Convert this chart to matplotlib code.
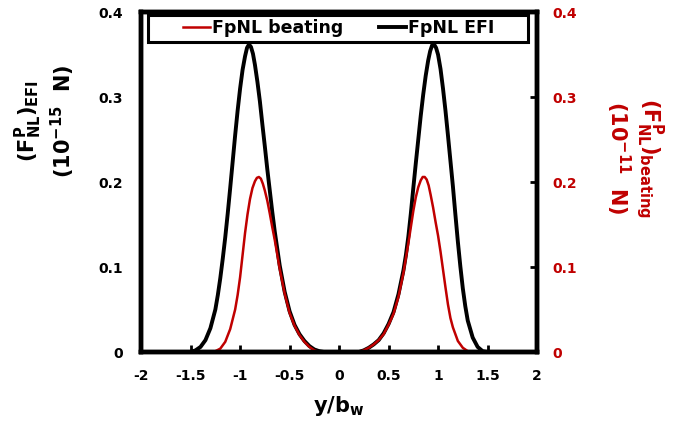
import matplotlib
matplotlib.use("Agg")
import matplotlib.pyplot as plt
from matplotlib.patches import Rectangle

plt.rcParams['font.family'] = ['DejaVu Sans']
plt.rcParams['font.weight'] = 'bold'
plt.rcParams['mathtext.fontset'] = 'dejavusans'
plt.rcParams['mathtext.default'] = 'bf'

RED = '#c00000'

# FpNL EFI (10^-15 N)
x_efi = [-2.0, -1.6, -1.5, -1.45, -1.4, -1.35, -1.3, -1.25, -1.225, -1.2,
         -1.175, -1.15, -1.125, -1.1, -1.075, -1.05, -1.025, -1.0, -0.975, -0.95,
         -0.93, -0.91, -0.89, -0.87, -0.85, -0.825, -0.8, -0.775, -0.75, -0.725,
         -0.7, -0.675, -0.65, -0.6, -0.55, -0.5, -0.45, -0.4, -0.35, -0.3,
         -0.25, -0.2, -0.15, 0.15, 0.2, 0.25, 0.3, 0.35, 0.4, 0.45,
         0.5, 0.55, 0.6, 0.65, 0.675, 0.7, 0.725, 0.75, 0.775, 0.8,
         0.825, 0.85, 0.875, 0.9, 0.92, 0.94, 0.96, 0.98, 1.0, 1.025,
         1.05, 1.075, 1.1, 1.125, 1.15, 1.175, 1.2, 1.225, 1.25, 1.275,
         1.3, 1.35, 1.4, 1.45, 1.5, 1.6, 2.0]
fp_efi = [0, 0, 0.000, 0.002, 0.006, 0.014, 0.028, 0.050, 0.067, 0.087,
          0.110, 0.135, 0.163, 0.193, 0.224, 0.255, 0.284, 0.310, 0.332, 0.348,
          0.358, 0.362, 0.359, 0.351, 0.338, 0.318, 0.295, 0.268, 0.242, 0.215,
          0.190, 0.165, 0.142, 0.102, 0.071, 0.048, 0.032, 0.021, 0.013, 0.007,
          0.003, 0.001, 0, 0, 0.000, 0.002, 0.005, 0.009, 0.014, 0.022,
          0.033, 0.047, 0.068, 0.096, 0.114, 0.136, 0.163, 0.193, 0.222, 0.250,
          0.278, 0.303, 0.325, 0.343, 0.354, 0.361, 0.362, 0.358, 0.350, 0.333,
          0.310, 0.284, 0.255, 0.225, 0.195, 0.162, 0.130, 0.101, 0.075, 0.054,
          0.037, 0.017, 0.006, 0.001, 0, 0, 0]

# FpNL beating (10^-11 N)
x_beat = [-2.0, -1.35, -1.3, -1.25, -1.2, -1.15, -1.1, -1.05, -1.025, -1.0,
          -0.975, -0.95, -0.925, -0.9, -0.875, -0.85, -0.83, -0.81, -0.79, -0.77,
          -0.75, -0.725, -0.7, -0.675, -0.65, -0.6, -0.55, -0.5, -0.45, -0.4,
          -0.35, -0.3, -0.25, -0.2, 0.2, 0.25, 0.3, 0.35, 0.4, 0.45,
          0.5, 0.55, 0.6, 0.65, 0.7, 0.725, 0.75, 0.775, 0.8, 0.825,
          0.845, 0.865, 0.885, 0.905, 0.925, 0.95, 0.975, 1.0, 1.025, 1.05,
          1.075, 1.1, 1.125, 1.15, 1.2, 1.25, 1.3, 1.35, 2.0]
fp_beat = [0, 0, 0.000, 0.001, 0.004, 0.012, 0.027, 0.050, 0.067, 0.088,
           0.114, 0.140, 0.162, 0.180, 0.193, 0.201, 0.205, 0.206, 0.204, 0.198,
           0.190, 0.178, 0.163, 0.147, 0.132, 0.098, 0.069, 0.046, 0.031, 0.020,
           0.012, 0.006, 0.002, 0, 0, 0.002, 0.005, 0.009, 0.014, 0.021,
           0.032, 0.045, 0.065, 0.093, 0.128, 0.147, 0.166, 0.182, 0.194, 0.202,
           0.206, 0.206, 0.203, 0.196, 0.185, 0.170, 0.153, 0.137, 0.118, 0.097,
           0.076, 0.056, 0.040, 0.029, 0.013, 0.005, 0.001, 0, 0]

x_ticks = [-2, -1.5, -1, -0.5, 0, 0.5, 1, 1.5, 2]
x_ticklabels = ['-2', '-1.5', '-1', '-0.5', '0', '0.5', '1', '1.5', '2']
y_ticks = [0, 0.1, 0.2, 0.3, 0.4]
y_ticklabels = ['0', '0.1', '0.2', '0.3', '0.4']

fig = plt.figure(figsize=(6.85, 4.33), dpi=100)
ax = fig.add_axes([0.206, 0.187, 0.578, 0.785])
ax2 = ax.twinx()

l_efi, = ax.plot(x_efi, fp_efi, color='black', lw=2.8, label='FpNL EFI')
l_beat, = ax2.plot(x_beat, fp_beat, color=RED, lw=1.8, label='FpNL beating')

for a in (ax, ax2):
    a.set_xlim(-2, 2)
    a.set_ylim(0, 0.4)
    for s in a.spines.values():
        s.set_linewidth(3.2)

ax.set_xticks(x_ticks)
ax.set_xticklabels(x_ticklabels)
ax.set_yticks(y_ticks)
ax.set_yticklabels(y_ticklabels)
ax.tick_params(axis='x', direction='in', length=5, width=2, top=True,
               labelsize=10, pad=12)
ax.tick_params(axis='y', direction='in', length=0, labelsize=10, pad=13)

ax2.set_yticks(y_ticks)
ax2.set_yticklabels(y_ticklabels)
ax2.tick_params(axis='y', direction='in', length=5, width=2, labelsize=10,
                pad=11, labelcolor=RED)

ax.set_xlabel(r'$y/b_w$', fontsize=15, labelpad=8)

# left axis title (two lines)
fig.text(0.042, 0.72, r'$(F^{P}_{NL})_{EFI}$', rotation=90, fontsize=15,
         ha='center', va='center')
fig.text(0.092, 0.72, r'$(10^{-15}\ \ N)$', rotation=90, fontsize=15,
         ha='center', va='center')

# right axis title (two lines)
fig.text(0.949, 0.635, r'$(F^{P}_{NL})_{beating}$', rotation=-90, fontsize=15,
         ha='center', va='center', color=RED)
fig.text(0.902, 0.635, r'$(10^{-11}\ \ N)$', rotation=-90, fontsize=15,
         ha='center', va='center', color=RED)

# legend box
box = Rectangle((0.018, 0.912), 0.959, 0.079, transform=ax2.transAxes,
                fc='white', ec='black', lw=2.2, zorder=4.9, clip_on=False)
ax2.add_patch(box)
ax2.legend(handles=[l_beat, l_efi], loc='center', bbox_to_anchor=(0.499, 0.952),
           ncol=2, frameon=False, fontsize=12.5, handlelength=1.55,
           handletextpad=0.1, columnspacing=2.1, borderpad=0.1)

fig.savefig('out.png', dpi=100)
